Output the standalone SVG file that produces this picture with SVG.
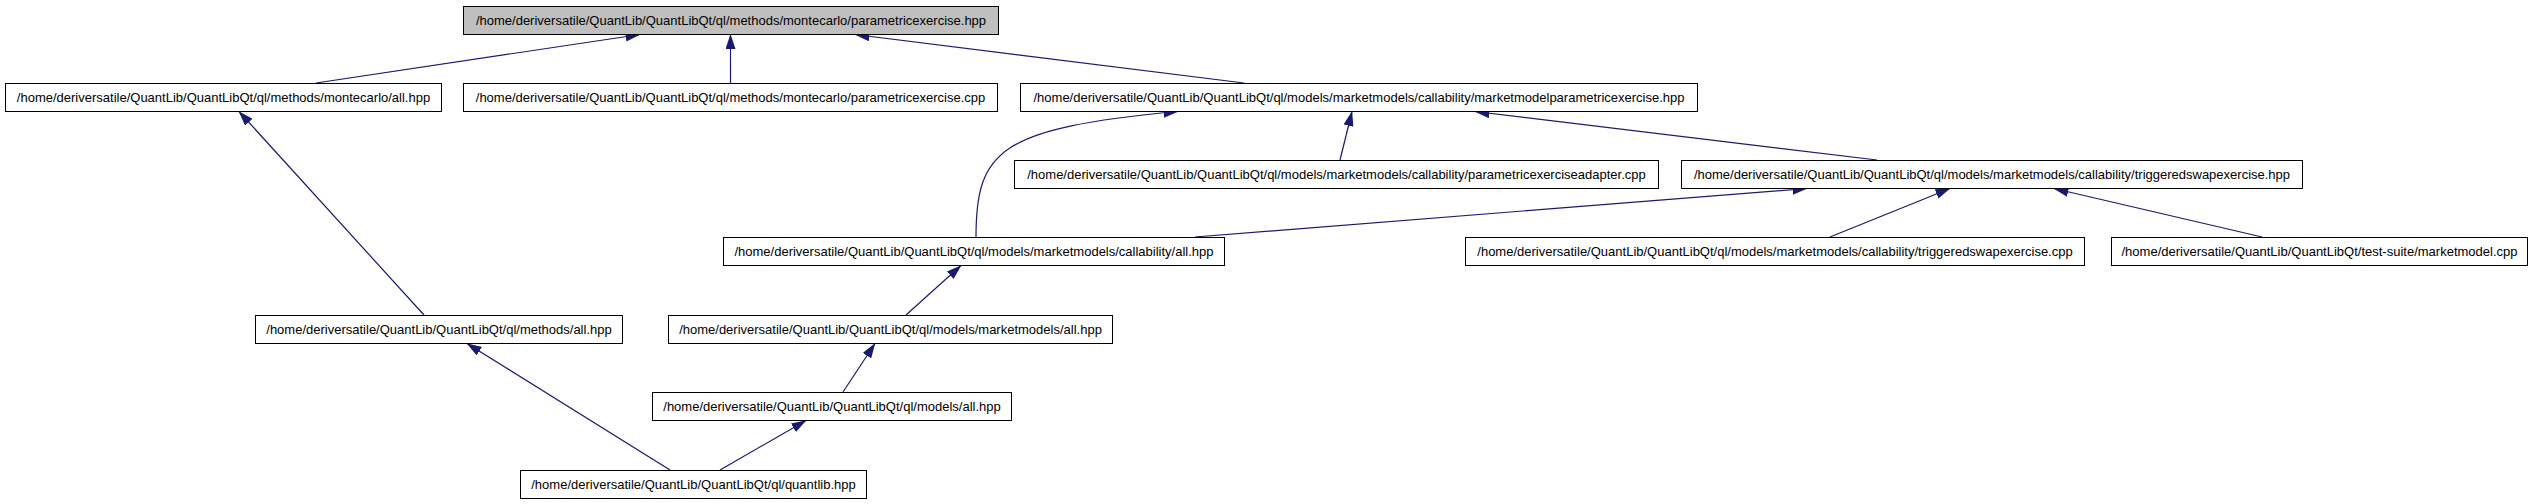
<svg xmlns="http://www.w3.org/2000/svg" width="2536" height="504" viewBox="0 0 2536 504">
<style>
.n rect{fill:#ffffff;stroke:#000000;stroke-width:1}
.n.root rect{fill:#bfbfbf}
.n text{font-family:"Liberation Sans",Arial,sans-serif;font-size:13px;fill:#000000;text-anchor:middle}
.e path{fill:none;stroke:#191970;stroke-width:1.2;marker-end:url(#ah)}
</style>
<defs>
<marker id="ah" markerUnits="userSpaceOnUse" markerWidth="16" markerHeight="10" refX="14.5" refY="5" orient="auto">
<path d="M0,0 L15,5 L0,10 z" fill="#191970" stroke="none"/>
</marker>
</defs>
<rect width="2536" height="504" fill="#ffffff"/>
<g id="edges" class="e">
<path d="M316,83 L640,34.5"/>
<path d="M730.5,83 L730.5,34.5"/>
<path d="M1244,83 L855,34.5"/>
<path d="M1340,160 L1352,111.5"/>
<path d="M1877,160 L1475,111.5"/>
<path d="M976,237 C976,150 1000,128 1178,111.5"/>
<path d="M1195,237 L1807,188.5"/>
<path d="M1830,237 L1950,188.5"/>
<path d="M2262,237 L2054,188.5"/>
<path d="M906,315 L961,265.5"/>
<path d="M843,392 L875,343.5"/>
<path d="M720,470 L806,420.5"/>
<path d="M670,470 L467,343.5"/>
<path d="M424,315 L239,111.5"/>
</g>
<g id="n0" class="n root"><rect x="463.5" y="6.5" width="535" height="28"/><text x="731" y="25">/home/deriversatile/QuantLib/QuantLibQt/ql/methods/montecarlo/parametricexercise.hpp</text></g>
<g id="n1" class="n"><rect x="5.5" y="83.5" width="436" height="28"/><text x="223.5" y="102">/home/deriversatile/QuantLib/QuantLibQt/ql/methods/montecarlo/all.hpp</text></g>
<g id="n2" class="n"><rect x="463.5" y="83.5" width="534" height="28"/><text x="730.5" y="102">/home/deriversatile/QuantLib/QuantLibQt/ql/methods/montecarlo/parametricexercise.cpp</text></g>
<g id="n3" class="n"><rect x="1020.5" y="83.5" width="677" height="28"/><text x="1359" y="102">/home/deriversatile/QuantLib/QuantLibQt/ql/models/marketmodels/callability/marketmodelparametricexercise.hpp</text></g>
<g id="n4" class="n"><rect x="1014.5" y="160.5" width="644" height="28"/><text x="1336.5" y="179">/home/deriversatile/QuantLib/QuantLibQt/ql/models/marketmodels/callability/parametricexerciseadapter.cpp</text></g>
<g id="n5" class="n"><rect x="1681.5" y="160.5" width="621" height="28"/><text x="1992" y="179">/home/deriversatile/QuantLib/QuantLibQt/ql/models/marketmodels/callability/triggeredswapexercise.hpp</text></g>
<g id="n6" class="n"><rect x="723.5" y="237.5" width="501" height="28"/><text x="974" y="256">/home/deriversatile/QuantLib/QuantLibQt/ql/models/marketmodels/callability/all.hpp</text></g>
<g id="n7" class="n"><rect x="1465.5" y="237.5" width="619" height="28"/><text x="1775" y="256">/home/deriversatile/QuantLib/QuantLibQt/ql/models/marketmodels/callability/triggeredswapexercise.cpp</text></g>
<g id="n8" class="n"><rect x="2111.5" y="237.5" width="416" height="28"/><text x="2319.5" y="256">/home/deriversatile/QuantLib/QuantLibQt/test-suite/marketmodel.cpp</text></g>
<g id="n9" class="n"><rect x="255.5" y="315.5" width="367" height="28"/><text x="439" y="334">/home/deriversatile/QuantLib/QuantLibQt/ql/methods/all.hpp</text></g>
<g id="n10" class="n"><rect x="668.5" y="315.5" width="444" height="28"/><text x="890.5" y="334">/home/deriversatile/QuantLib/QuantLibQt/ql/models/marketmodels/all.hpp</text></g>
<g id="n11" class="n"><rect x="652.5" y="392.5" width="359" height="28"/><text x="832" y="411">/home/deriversatile/QuantLib/QuantLibQt/ql/models/all.hpp</text></g>
<g id="n12" class="n"><rect x="520.5" y="470.5" width="346" height="28"/><text x="693.5" y="489">/home/deriversatile/QuantLib/QuantLibQt/ql/quantlib.hpp</text></g>
</svg>
